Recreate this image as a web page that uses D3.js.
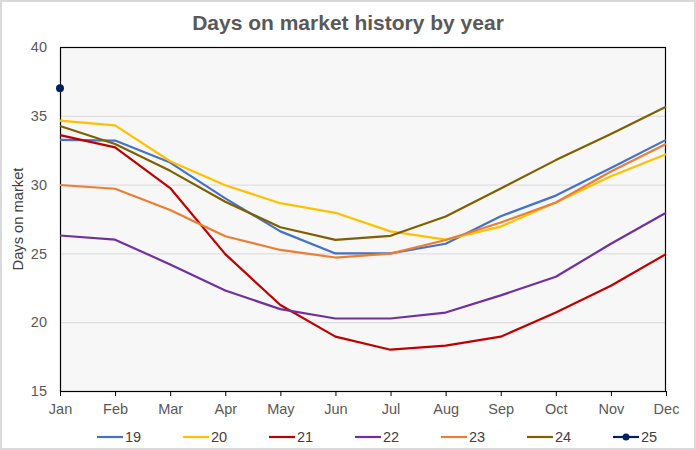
<!DOCTYPE html>
<html><head><meta charset="utf-8">
<script src="https://cdn.jsdelivr.net/npm/d3@7"></script>
<style>body{margin:0;background:#fff}svg{display:block;font-family:"Liberation Sans",Arial,sans-serif}</style>
</head><body><svg id="c" width="696" height="450"></svg>
<script>
const months = ["Jan","Feb","Mar","Apr","May","Jun","Jul","Aug","Sep","Oct","Nov","Dec"];
const yTicks = [15,20,25,30,35,40];
const seriesNames = ["19","20","21","22","23","24","25"];
const seriesColors = ["#4472C4","#FFC000","#C00000","#7030A0","#ED7D31","#7F6000","#002060"];
const s19 = [33.25,33.2,31.6,29.0,26.6,25.0,25.0,25.7,27.7,29.2,31.2,33.25];
const s20 = [34.65,34.3,31.7,29.95,28.65,27.95,26.6,26.0,26.95,28.7,30.6,32.2];
const s21 = [33.6,32.7,29.75,24.95,21.25,18.95,18.0,18.3,18.95,20.7,22.65,24.95];
const s22 = [26.3,26.0,24.2,22.3,20.95,20.27,20.27,20.7,21.95,23.3,25.7,27.95];
const s23 = [29.97,29.7,28.15,26.25,25.25,24.7,24.98,25.97,27.25,28.7,30.95,32.95];
const s24 = [34.26,32.95,31.0,28.75,26.9,25.98,26.28,27.68,29.72,31.78,33.68,35.66];
const s25 = [37.0];
const allSeries = [s19,s20,s21,s22,s23,s24,s25];

const svg = d3.select("#c");
const W=696,H=450, L=60,R=666,T=47,B=391;
svg.append("rect").attr("x",1).attr("y",1).attr("width",W-2).attr("height",H-2)
  .attr("fill","#fff").attr("stroke","#d9d9d9").attr("stroke-width",2);

const x = d3.scalePoint().domain(months).range([L,R]);
const y = d3.scaleLinear().domain([15,40]).range([B,T]);

svg.append("rect").attr("x",L).attr("y",T).attr("width",R-L).attr("height",B-T).attr("fill","#f7f7f7");

// gridlines
svg.append("g").selectAll("line").data(yTicks.filter(v=>v>15&&v<40)).join("line")
  .attr("x1",L).attr("x2",R).attr("y1",d=>y(d)+0.5).attr("y2",d=>y(d)+0.5)
  .attr("stroke","#d9d9d9").attr("stroke-width",1);

// title
svg.append("text").attr("x",W/2).attr("y",30).attr("text-anchor","middle")
  .attr("font-size",21).attr("font-weight","bold").attr("fill","#595959").text("Days on market history by year");

// y axis label
svg.append("text").attr("transform",`translate(23,${(T+B)/2}) rotate(-90)`).attr("text-anchor","middle")
  .attr("font-size",14.7).attr("fill","#404040").text("Days on market");

// y tick labels
const yAxis = d3.axisLeft(y).tickValues(yTicks).tickSize(0).tickPadding(13);
const gy = svg.append("g").attr("transform",`translate(${L},0)`).call(yAxis);
gy.select(".domain").remove();
gy.selectAll("text").attr("font-size",14.5).attr("fill","#595959").attr("font-family","Liberation Sans, Arial, sans-serif");

// x axis
const xAxis = d3.axisBottom(x).tickSize(5).tickPadding(8);
const gx = svg.append("g").attr("transform",`translate(0,${B})`).call(xAxis);
gx.select(".domain").remove();
gx.selectAll("line").attr("stroke","#000");
gx.selectAll("text").attr("font-size",14.5).attr("fill","#595959").attr("font-family","Liberation Sans, Arial, sans-serif");

// plot border
svg.append("rect").attr("x",L+0.5).attr("y",T+0.5).attr("width",R-L-1).attr("height",B-T)
  .attr("fill","none").attr("stroke","#000").attr("stroke-width",1.2);

// lines
const line = d3.line().x((d,i)=>x(months[i])).y(d=>y(d));
allSeries.forEach((s,k)=>{
  if(s.length>1){
    svg.append("path").datum(s).attr("d",line).attr("fill","none")
      .attr("stroke",seriesColors[k]).attr("stroke-width",2.2).attr("stroke-linejoin","round");
  } else {
    svg.append("circle").attr("cx",x(months[0])).attr("cy",y(s[0])).attr("r",4).attr("fill",seriesColors[k]);
  }
});

// legend
const lg = svg.append("g");
seriesNames.forEach((n,i)=>{
  const x0 = 97 + i*86, yy = 437;
  lg.append("line").attr("x1",x0).attr("x2",x0+26).attr("y1",yy).attr("y2",yy)
    .attr("stroke",seriesColors[i]).attr("stroke-width",2.2);
  if(i===6) lg.append("circle").attr("cx",x0+13).attr("cy",yy).attr("r",3.5).attr("fill",seriesColors[i]);
  lg.append("text").attr("x",x0+28).attr("y",yy+5).attr("font-size",14.5).attr("fill","#404040").text(n);
});
</script></body></html>
